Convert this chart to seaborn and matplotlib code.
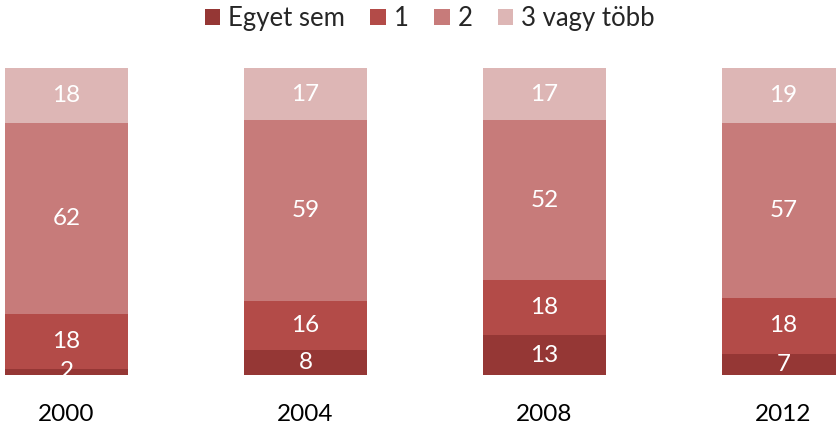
import matplotlib
matplotlib.use("Agg")
import matplotlib.pyplot as plt
import seaborn as sns
import pandas as pd
import numpy as np

years = ["2000", "2004", "2008", "2012"]
egyet_sem = [2, 8, 13, 7]
egy = [18, 16, 18, 18]
ketto = [62, 59, 52, 57]
harom = [18, 17, 17, 19]
series_names = ["Egyet sem", "1", "2", "3 vagy több"]
colors = ["#953735", "#B34B48", "#C77B7A", "#DDB6B5"]

sns.set_theme(style="white")
plt.rcParams["font.family"] = ["Lato", "DejaVu Sans"]

layers = [egyet_sem, egy, ketto, harom]
cum = np.cumsum(np.array(layers), axis=0)

fig = plt.figure(figsize=(8.36, 4.29), dpi=100)
ax = fig.add_axes([0, 1 - 375 / 429, 1, 307 / 429])

# draw from top layer down so lower layers overlay
for i in range(3, -1, -1):
    df = pd.DataFrame({"year": years, "value": cum[i]})
    sns.barplot(data=df, x="year", y="value", color=colors[i], width=0.515,
                saturation=1, ax=ax, label=series_names[i], linewidth=0)

for j in range(len(years)):
    for i in range(4):
        bottom = cum[i][j] - layers[i][j]
        top = min(cum[i][j], 100)
        ax.text(j, (bottom + top) / 2, str(layers[i][j]), ha="center",
                va="center", color="white", fontsize=17.5)

ax.set_xlim(-66.5 / 239, (836 - 66.5) / 239)
ax.set_ylim(0, 100)
ax.set_xlabel("")
ax.set_ylabel("")
ax.set_yticks([])
ax.tick_params(axis="x", length=0, pad=21, labelsize=17.5, labelcolor="black")
for s in ax.spines.values():
    s.set_visible(False)
if ax.get_legend():
    ax.get_legend().remove()

handles, labels = ax.get_legend_handles_labels()
order = {n: k for k, n in enumerate(series_names)}
pairs = sorted(zip(handles, labels), key=lambda p: order[p[1]])
fig.legend([p[0] for p in pairs], [p[1] for p in pairs], loc="upper center",
           bbox_to_anchor=(0.514, 1.04), ncol=4, frameon=False, fontsize=18.5,
           handlelength=0.6, handleheight=0.6, handletextpad=0.3, columnspacing=1.0)

fig.savefig("out.png", dpi=100)
